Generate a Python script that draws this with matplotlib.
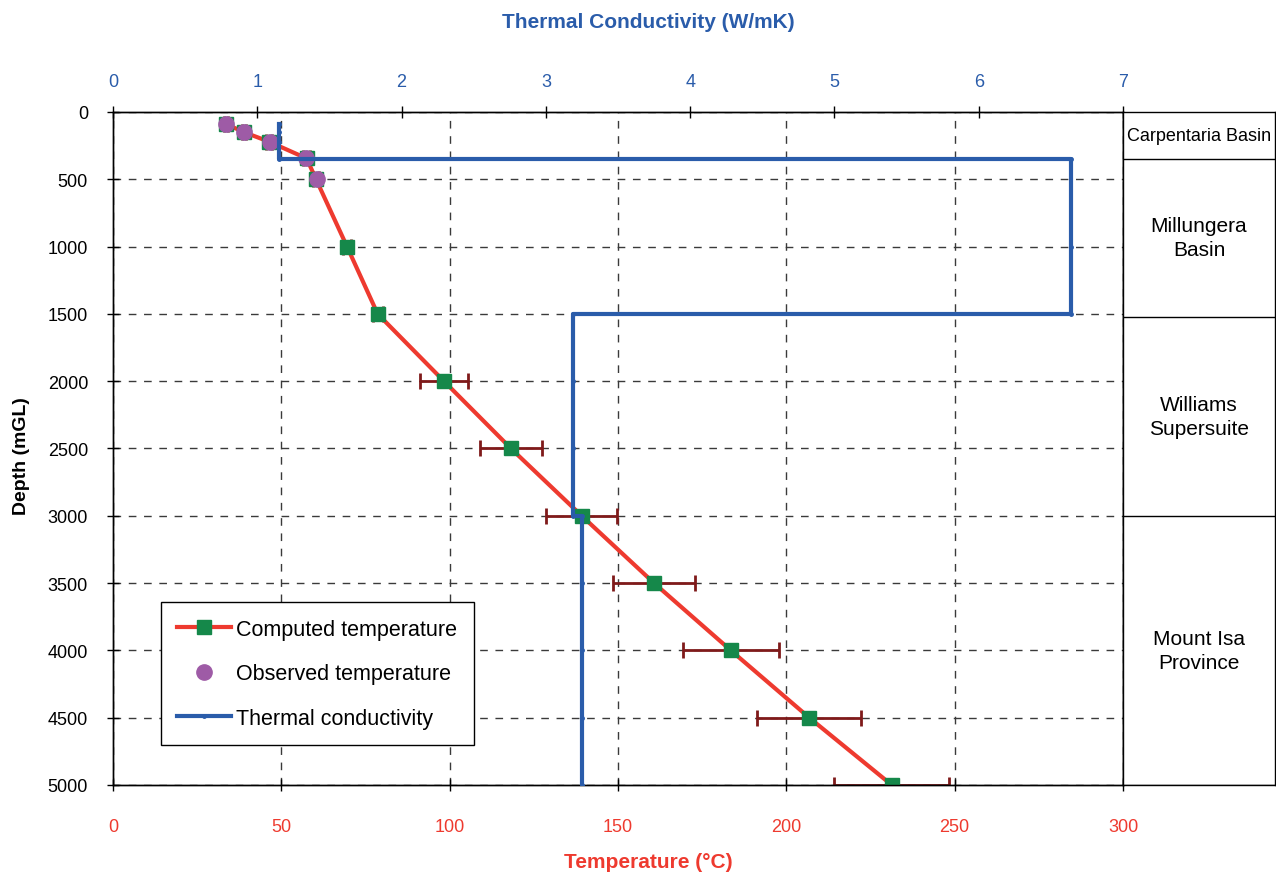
import matplotlib
matplotlib.use('Agg')
import matplotlib.pyplot as plt

plt.rcParams['font.family'] = ['Liberation Sans', 'DejaVu Sans']

# computed temperature profile (with uncertainty)
depth = [90, 150, 220, 345, 500, 1000, 1500, 2000, 2500, 3000, 3500, 4000, 4500, 5000]
temp_comp = [33.6, 38.9, 46.3, 57.5, 60.3, 69.5, 78.6, 98.3, 118.2, 139.2, 160.7, 183.5, 206.8, 231.3]
temp_err = [0.5, 0.5, 0.8, 1.0, 1.0, 1.2, 1.5, 7.0, 9.2, 10.6, 12.3, 14.3, 15.5, 17.0]

# observed temperatures
obs_depth = [90, 150, 220, 345, 500]
temp_obs = [33.5, 38.9, 46.5, 57.4, 60.6]

# thermal conductivity profile
k_depth = [90, 150, 220, 350, 350, 1000, 1500, 1500, 2000, 2500, 3000, 3000, 3500, 4000, 4500, 5000]
k_value = [1.15, 1.15, 1.15, 1.15, 6.64, 6.64, 6.64, 3.19, 3.19, 3.19, 3.19, 3.25, 3.25, 3.25, 3.25, 3.25]

# geological units
units = ['Carpentaria Basin', 'Millungera\nBasin', 'Williams\nSupersuite', 'Mount Isa\nProvince']
unit_top = [0, 350, 1520, 3000]
unit_base = [350, 1520, 3000, 5000]

temp_ticks = [0, 50, 100, 150, 200, 250, 300]
k_ticks = [0, 1, 2, 3, 4, 5, 6, 7]
depth_ticks = [0, 500, 1000, 1500, 2000, 2500, 3000, 3500, 4000, 4500, 5000]

RED = '#EE3A2F'
BLUE = '#2A5CAA'
GREEN = '#15884A'
PURPLE = '#9E5BA6'
DARKRED = '#7F1A1A'

fig = plt.figure(figsize=(12.76, 8.78), dpi=100)
ax = fig.add_axes([0.0886, 0.1048, 0.7915, 0.7665])

ax.set_xlim(0, 300)
ax.set_ylim(5000, 0)
ax.set_xticks(temp_ticks)
ax.set_yticks(depth_ticks)
ax.grid(True, linestyle=(0, (5.5, 5.5)), color='#3a3a3a', linewidth=1.0)
ax.set_axisbelow(True)

ax.errorbar(temp_comp, depth, xerr=temp_err, fmt='none', ecolor=DARKRED,
            elinewidth=2, capsize=6, capthick=2, zorder=2)
l_comp, = ax.plot(temp_comp, depth, color=RED, linewidth=3, marker='s',
                  markersize=10, markerfacecolor=GREEN, markeredgecolor=GREEN,
                  label='Computed temperature', zorder=3)
l_obs, = ax.plot(temp_obs, obs_depth, linestyle='none', marker='o', markersize=11,
                 color=PURPLE, label='Observed temperature', zorder=4)

ax.tick_params(axis='x', direction='inout', length=8, width=1, pad=20,
               labelsize=13, labelcolor=RED)
ax.tick_params(axis='y', direction='inout', length=8, width=1, pad=14,
               labelsize=13)
ax.set_xlabel('Temperature (°C)', color=RED, fontsize=15, fontweight='bold',
              labelpad=12, x=0.53)
ax.set_ylabel('Depth (mGL)', fontsize=14, fontweight='bold', labelpad=13, y=0.49)

ax2 = ax.twiny()
ax2.set_xlim(0, 7)
ax2.set_xticks(k_ticks)
l_k, = ax2.plot(k_value, k_depth, color=BLUE, linewidth=3, marker='o', markersize=2.5,
                label='Thermal conductivity', zorder=5)
ax2.tick_params(axis='x', direction='inout', length=8, width=1, pad=12,
                labelsize=13, labelcolor=BLUE)
ax2.set_xlabel('Thermal Conductivity (W/mK)', color=BLUE, fontsize=15,
               fontweight='bold', labelpad=33, x=0.53)

for a in (ax, ax2):
    for s in a.spines.values():
        s.set_color('black')
        s.set_linewidth(1.0)

leg = ax2.legend(handles=[l_comp, l_obs, l_k], loc='lower left',
                 bbox_to_anchor=(0.0475, 0.0594), borderaxespad=0, fontsize=15.5,
                 frameon=True, fancybox=False, edgecolor='black', framealpha=1,
                 handlelength=2.5, handletextpad=0.25, labelspacing=1.1,
                 borderpad=0.75)
leg.get_frame().set_linewidth(1.0)

# geological unit column
axr = fig.add_axes([0.8801, 0.1048, 0.1191, 0.7665])
axr.set_xlim(0, 1)
axr.set_ylim(5000, 0)
axr.set_xticks([])
axr.set_yticks([])
for s in axr.spines.values():
    s.set_color('black')
    s.set_linewidth(1.0)
for name, top, base in zip(units, unit_top, unit_base):
    axr.axhline(base, color='black', linewidth=1.0)
    fs = 13 if '\n' not in name else 15
    axr.text(0.5, (top + base) / 2, name, ha='center', va='center', fontsize=fs,
             linespacing=1.35)

fig.savefig('out.png', dpi=100)
